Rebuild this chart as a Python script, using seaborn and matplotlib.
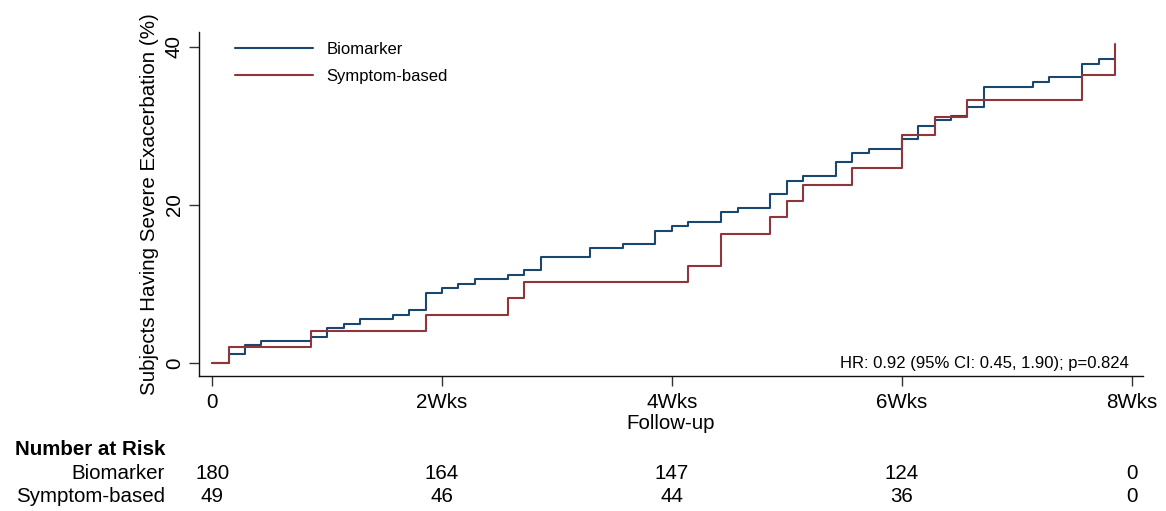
import numpy as np
import pandas as pd
import matplotlib
matplotlib.use('Agg')
import matplotlib.pyplot as plt
import matplotlib.transforms as mtransforms
import seaborn as sns

sns.set_style("ticks")
plt.rcParams['font.family'] = ['Liberation Sans', 'DejaVu Sans']
plt.rcParams['text.color'] = 'black'
plt.rcParams['axes.labelcolor'] = 'black'
plt.rcParams['xtick.color'] = 'black'
plt.rcParams['ytick.color'] = 'black'

# Kaplan-Meier style cumulative incidence (%) (x in days)
bio_days = [0, 1, 2, 3, 6, 7, 8, 9, 11, 12, 13, 14, 15, 16, 18, 19, 20, 23, 25, 27,
            28, 29, 31, 32, 34, 35, 36, 38, 39, 40, 42, 43, 44, 45, 46, 47, 50, 51, 53, 54, 55]
bio_pct = [0, 1.14, 2.24, 2.78, 3.33, 4.43, 4.98, 5.57, 6.10, 6.70, 8.86, 9.45, 10.04, 10.59,
           11.14, 11.73, 13.37, 14.50, 15.06, 16.75, 17.30, 17.89, 19.03, 19.58, 21.35, 23.04,
           23.63, 25.36, 26.50, 27.09, 28.27, 30.00, 30.67, 31.27, 32.40, 34.90, 35.57, 36.20,
           37.76, 38.50, 38.50]
sym_days = [0, 1, 6, 13, 18, 19, 29, 31, 34, 35, 36, 39, 42, 44, 46, 53, 55]
sym_pct = [0, 2.04, 4.09, 6.12, 8.19, 10.20, 12.28, 16.33, 18.40, 20.50, 22.57, 24.68,
           28.86, 31.05, 33.20, 36.40, 40.40]

groups = ['Biomarker', 'Symptom-based']
colors = ['#1a476f', '#90353b']
tick_days = [0, 14, 28, 42, 56]
tick_labels = ['0', '2Wks', '4Wks', '6Wks', '8Wks']
risk_bio = [180, 164, 147, 124, 0]
risk_sym = [49, 46, 44, 36, 0]
hr_text = 'HR: 0.92 (95% CI: 0.45, 1.90); p=0.824'

df = pd.concat([
    pd.DataFrame({'day': bio_days, 'pct': bio_pct, 'group': groups[0]}),
    pd.DataFrame({'day': sym_days, 'pct': sym_pct, 'group': groups[1]}),
])

fig = plt.figure(figsize=(11.66, 5.11), dpi=100)
ax = fig.add_axes([0.1707, 0.2642, 0.8096, 0.6738])

sns.lineplot(data=df, x='day', y='pct', hue='group', hue_order=groups,
             palette=colors, estimator=None, sort=False, drawstyle='steps-post',
             linewidth=1.5, ax=ax)

fs = 14.8
ax.set_xlim(-0.8, 56.7)
ax.set_ylim(-1.65, 41.9)
ax.set_xticks(tick_days)
ax.set_xticklabels(tick_labels)
ax.set_yticks([0, 20, 40])
ax.tick_params(axis='both', labelsize=fs, length=7, width=1, color='#333333')
ax.tick_params(axis='x', pad=5)
ax.tick_params(axis='y', labelrotation=90, pad=4)
for lab in ax.get_yticklabels():
    lab.set_va('center')
ax.set_xlabel('Follow-up', fontsize=fs, labelpad=2)
ax.set_ylabel('Subjects Having Severe Exacerbation (%)', fontsize=fs, labelpad=4)
for s in ['left', 'bottom']:
    ax.spines[s].set_linewidth(1)
    ax.spines[s].set_color('#111111')
sns.despine(ax=ax)

handles, labels = ax.get_legend_handles_labels()
ax.legend(handles, labels, loc='upper left', bbox_to_anchor=(0.022, 1.015), frameon=False,
          fontsize=12, handlelength=4.7, handletextpad=0.8, labelspacing=0.75)

ax.text(0.985, 0.035, hr_text, transform=ax.transAxes, ha='right', va='center', fontsize=12)

# number at risk table
trans = mtransforms.blended_transform_factory(ax.transData, fig.transFigure)
fig.text(165 / 1166, 1 - 449 / 511, 'Number at Risk', ha='right', va='center',
         fontsize=fs, fontweight='bold')
fig.text(165 / 1166, 1 - 473 / 511, groups[0], ha='right', va='center', fontsize=fs)
fig.text(165 / 1166, 1 - 496 / 511, groups[1], ha='right', va='center', fontsize=fs)
for d, nb, ns in zip(tick_days, risk_bio, risk_sym):
    ax.text(d, 1 - 473 / 511, str(nb), transform=trans, ha='center', va='center',
            fontsize=fs, clip_on=False)
    ax.text(d, 1 - 496 / 511, str(ns), transform=trans, ha='center', va='center',
            fontsize=fs, clip_on=False)

fig.savefig('out.png', dpi=100)
